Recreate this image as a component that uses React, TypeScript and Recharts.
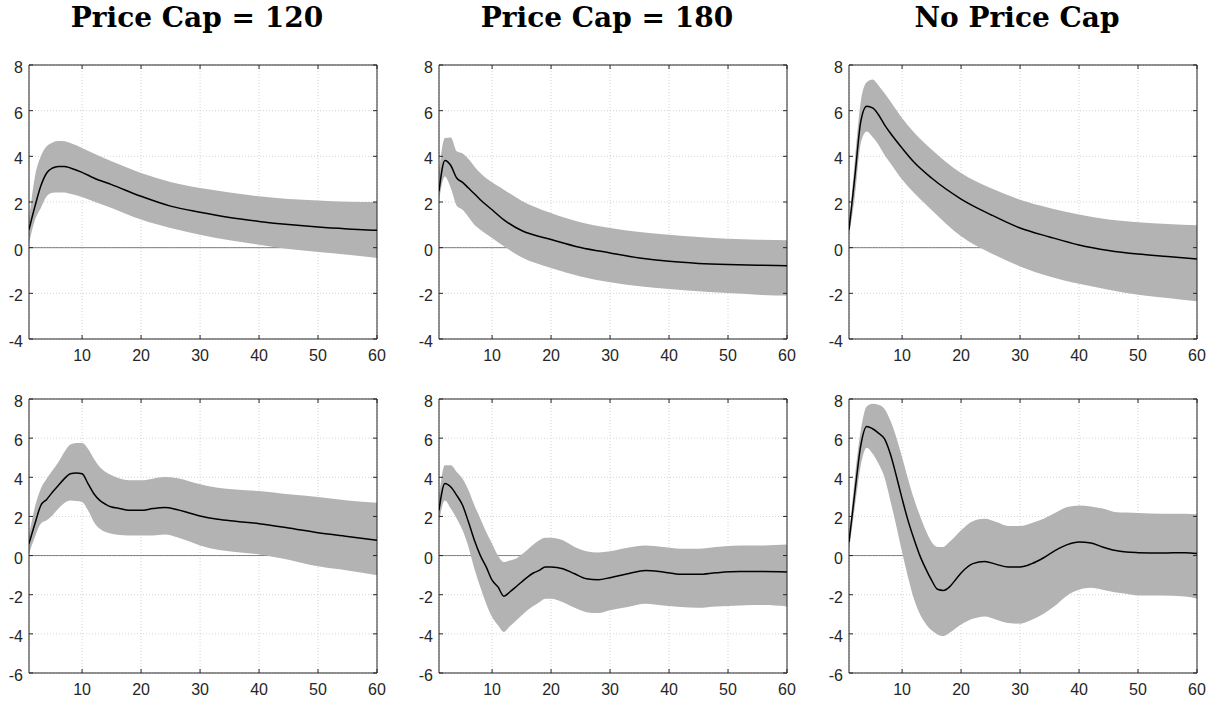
import React from "react";
import { ComposedChart, Area, Line, XAxis, YAxis, CartesianGrid, ReferenceArea } from "recharts";

const TITLES = ["Price Cap = 120", "Price Cap = 180", "No Price Cap"];
const X_TICKS = [10, 20, 30, 40, 50, 60];
const Y_TICKS_TOP = [-4, -2, 0, 2, 4, 6, 8];
const Y_TICKS_BOTTOM = [-6, -4, -2, 0, 2, 4, 6, 8];

// top row: horizon grid shared by the three panels
const X_TOP = [1, 2, 3, 4, 5, 6, 7, 8, 10, 12, 15, 20, 25, 30, 35, 40, 45, 50, 55, 60];

// Price Cap = 120, top
const P1_MEAN = [0.79, 1.8, 2.7, 3.27, 3.49, 3.56, 3.56, 3.49, 3.3, 3.05, 2.76, 2.25, 1.82, 1.55, 1.32, 1.15, 1.01, 0.9, 0.82, 0.76];
const P1_HI = [1.2, 3.1, 4.0, 4.44, 4.61, 4.67, 4.66, 4.58, 4.36, 4.12, 3.78, 3.27, 2.88, 2.61, 2.42, 2.25, 2.13, 2.07, 2.01, 2.0];
const P1_LO = [0.2, 1.2, 1.74, 2.25, 2.4, 2.42, 2.42, 2.36, 2.22, 2.02, 1.74, 1.23, 0.86, 0.57, 0.32, 0.13, -0.06, -0.19, -0.31, -0.45];

// Price Cap = 180, top
const P2_MEAN = [2.47, 3.82, 3.6, 3.05, 2.86, 2.61, 2.36, 2.1, 1.66, 1.22, 0.75, 0.36, 0.01, -0.23, -0.45, -0.6, -0.69, -0.74, -0.77, -0.79];
const P2_HI = [3.3, 4.8, 4.83, 4.22, 4.12, 3.88, 3.56, 3.27, 2.86, 2.54, 2.06, 1.52, 1.11, 0.86, 0.69, 0.57, 0.47, 0.39, 0.35, 0.32];
const P2_LO = [2.03, 3.12, 2.61, 1.84, 1.66, 1.34, 1.0, 0.79, 0.42, 0.06, -0.42, -0.89, -1.26, -1.52, -1.69, -1.81, -1.91, -1.99, -2.06, -2.1];

// No Price Cap, top
const P3_MEAN = [0.79, 3.12, 5.53, 6.19, 6.12, 5.82, 5.39, 5.02, 4.36, 3.75, 3.05, 2.13, 1.45, 0.86, 0.47, 0.12, -0.12, -0.28, -0.39, -0.5];
const P3_HI = [0.9, 3.85, 6.4, 7.24, 7.36, 7.1, 6.77, 6.41, 5.68, 5.05, 4.3, 3.27, 2.61, 2.1, 1.74, 1.45, 1.23, 1.11, 1.04, 0.98];
const P3_LO = [0.5, 2.25, 4.58, 5.09, 4.85, 4.51, 4.07, 3.71, 2.98, 2.4, 1.65, 0.5, -0.23, -0.82, -1.26, -1.58, -1.84, -2.06, -2.2, -2.35];

// Price Cap = 120, bottom
const X4 = [1, 2, 3, 4, 5, 6, 7, 8, 9, 10, 11, 12, 13, 14, 15, 16, 18, 20, 22, 24, 26, 28, 30, 33, 36, 40, 45, 50, 55, 60];
const P4_MEAN = [0.61, 1.63, 2.56, 2.87, 3.25, 3.59, 3.93, 4.18, 4.22, 4.18, 3.68, 3.16, 2.82, 2.62, 2.48, 2.43, 2.31, 2.31, 2.4, 2.45, 2.35, 2.19, 2.02, 1.85, 1.75, 1.63, 1.41, 1.17, 0.98, 0.78];
const P4_HI = [1.03, 2.48, 3.42, 3.93, 4.36, 4.78, 5.29, 5.67, 5.75, 5.75, 5.46, 4.95, 4.53, 4.27, 4.1, 3.98, 3.85, 3.85, 3.93, 4.01, 3.96, 3.81, 3.64, 3.47, 3.37, 3.3, 3.13, 2.99, 2.82, 2.7];
const P4_LO = [0.1, 0.95, 1.63, 1.8, 2.06, 2.4, 2.69, 2.82, 2.79, 2.74, 2.31, 1.72, 1.37, 1.2, 1.12, 1.07, 1.03, 1.02, 1.03, 1.08, 0.95, 0.74, 0.52, 0.3, 0.18, 0.06, -0.21, -0.55, -0.76, -1.01];

// Price Cap = 180, bottom
const X5 = [1, 2, 3, 4, 5, 6, 7, 8, 9, 10, 11, 12, 13, 14, 15, 16, 17, 18, 19, 20, 22, 24, 26, 28, 30, 33, 36, 39, 42, 45, 48, 52, 56, 60];
const P5_MEAN = [2.31, 3.68, 3.5, 3.08, 2.57, 1.71, 0.78, 0.01, -0.58, -1.26, -1.6, -2.08, -1.86, -1.61, -1.35, -1.1, -0.89, -0.76, -0.58, -0.58, -0.67, -0.93, -1.18, -1.23, -1.13, -0.93, -0.76, -0.84, -0.96, -0.96, -0.88, -0.82, -0.82, -0.84];
const P5_HI = [2.99, 4.61, 4.61, 4.27, 3.93, 3.34, 2.57, 1.89, 1.2, 0.61, 0.01, -0.33, -0.25, -0.16, 0.06, 0.3, 0.56, 0.78, 0.91, 0.91, 0.78, 0.44, 0.22, 0.16, 0.22, 0.4, 0.51, 0.44, 0.35, 0.35, 0.44, 0.51, 0.52, 0.56];
const P5_LO = [1.71, 2.82, 2.4, 1.89, 1.29, 0.44, -0.67, -1.61, -2.46, -3.14, -3.56, -3.9, -3.61, -3.34, -3.06, -2.8, -2.58, -2.38, -2.2, -2.2, -2.38, -2.67, -2.89, -2.94, -2.8, -2.63, -2.46, -2.55, -2.63, -2.67, -2.6, -2.55, -2.53, -2.6];

// No Price Cap, bottom
const X6 = [1, 2, 3, 4, 5, 6, 7, 8, 9, 10, 11, 12, 13, 14, 15, 16, 17, 18, 19, 20, 22, 24, 26, 28, 30, 32, 34, 36, 38, 40, 42, 44, 46, 48, 50, 54, 58, 60];
const P6_MEAN = [0.69, 3.25, 5.63, 6.6, 6.48, 6.26, 5.97, 5.2, 4.1, 2.91, 1.8, 0.86, 0.01, -0.67, -1.26, -1.72, -1.78, -1.61, -1.26, -0.89, -0.41, -0.3, -0.45, -0.58, -0.58, -0.41, -0.11, 0.27, 0.56, 0.69, 0.64, 0.44, 0.27, 0.18, 0.15, 0.13, 0.15, 0.1];
const P6_HI = [0.95, 4.01, 6.4, 7.62, 7.76, 7.71, 7.5, 6.91, 6.06, 5.03, 3.93, 2.91, 2.06, 1.29, 0.69, 0.44, 0.44, 0.69, 0.98, 1.29, 1.76, 1.88, 1.71, 1.51, 1.51, 1.66, 1.88, 2.19, 2.48, 2.56, 2.51, 2.4, 2.23, 2.2, 2.18, 2.14, 2.14, 2.11];
const P6_LO = [0.27, 2.48, 4.61, 5.51, 5.2, 4.7, 4.01, 2.82, 1.54, 0.18, -1.1, -2.2, -2.97, -3.48, -3.82, -4.03, -4.11, -3.96, -3.74, -3.52, -3.23, -3.11, -3.28, -3.45, -3.48, -3.28, -2.97, -2.55, -2.04, -1.75, -1.65, -1.75, -1.87, -1.95, -2.04, -2.04, -2.09, -2.2];

const AX = "#262626";
const BAND = "#b3b3b3";
const TICK_FONT = "'Liberation Sans', Arial, sans-serif";

const COL_LEFT = [29, 439, 849];
const ROW_TOP = [65, 399];
const PLOT_W = 348;
const PLOT_H = 274;
const PAD_L = 40;
const PAD_T = 10;
const PAD_R = 20;
const PAD_B = 30;
const TICK_LEN = 4;

const rows = (x: number[], mean: number[], lo: number[], hi: number[]) =>
  x.map((v, i) => ({ x: v, mean: mean[i], band: [lo[i], hi[i]] }));

const PANELS = [
  { col: 0, row: 0, data: rows(X_TOP, P1_MEAN, P1_LO, P1_HI) },
  { col: 1, row: 0, data: rows(X_TOP, P2_MEAN, P2_LO, P2_HI) },
  { col: 2, row: 0, data: rows(X_TOP, P3_MEAN, P3_LO, P3_HI) },
  { col: 0, row: 1, data: rows(X4, P4_MEAN, P4_LO, P4_HI) },
  { col: 1, row: 1, data: rows(X5, P5_MEAN, P5_LO, P5_HI) },
  { col: 2, row: 1, data: rows(X6, P6_MEAN, P6_LO, P6_HI) },
];

// x tick: y is the plot bottom (tickSize 0, tickMargin 0); marks point inward, top and bottom
const XTick = (props: any) => {
  const { x, y, payload } = props;
  return (
    <g>
      <line x1={x} x2={x} y1={y} y2={y - TICK_LEN} stroke={AX} strokeWidth={1} />
      <line x1={x} x2={x} y1={y - PLOT_H} y2={y - PLOT_H + TICK_LEN} stroke={AX} strokeWidth={1} />
      <text x={x} y={y + 22} textAnchor="middle" fill={AX} fontSize={16} fontFamily={TICK_FONT}>
        {payload.value}
      </text>
    </g>
  );
};

// y tick: x is the plot left edge
const YTick = (props: any) => {
  const { x, y, payload } = props;
  return (
    <g>
      <line x1={x} x2={x + TICK_LEN} y1={y} y2={y} stroke={AX} strokeWidth={1} />
      <line x1={x + PLOT_W} x2={x + PLOT_W - TICK_LEN} y1={y} y2={y} stroke={AX} strokeWidth={1} />
      <text x={x - 6} y={y + 8} textAnchor="end" fill={AX} fontSize={16} fontFamily={TICK_FONT}>
        {payload.value}
      </text>
    </g>
  );
};

const zero = () => 0;

function Panel({ data, row, col }: { data: any[]; row: number; col: number }) {
  const yTicks = row === 0 ? Y_TICKS_TOP : Y_TICKS_BOTTOM;
  const yMin = yTicks[0];
  const yMax = yTicks[yTicks.length - 1];
  return (
    <div style={{ position: "absolute", left: COL_LEFT[col] - PAD_L, top: ROW_TOP[row] - PAD_T }}>
      <ComposedChart
        width={PAD_L + PLOT_W + PAD_R}
        height={PAD_T + PLOT_H + PAD_B}
        data={data}
        margin={{ top: PAD_T, right: PAD_R, bottom: 0, left: 0 }}
      >
        <CartesianGrid stroke="#d4d4d4" strokeDasharray="1 2" />
        <XAxis dataKey="x" type="number" domain={[1, 60]} ticks={X_TICKS} interval={0} allowDataOverflow
          height={PAD_B} axisLine={false} tickLine={false} tickSize={0} tickMargin={0} tick={<XTick />} />
        <YAxis type="number" domain={[yMin, yMax]} ticks={yTicks} interval={0} allowDataOverflow
          width={PAD_L} axisLine={false} tickLine={false} tickSize={0} tickMargin={0} tick={<YTick />} />
        {/* zero line: an unfilled area so it stays in the area layer, under the band */}
        <Area dataKey={zero} type="linear" stroke="#4d4d4d" strokeWidth={0.7} fill="none" fillOpacity={0}
          dot={false} activeDot={false} isAnimationActive={false} />
        <Area dataKey="band" type="monotone" stroke="none" fill={BAND} fillOpacity={1} isAnimationActive={false} />
        <Line dataKey="mean" type="monotone" stroke="#000" strokeWidth={1.5} dot={false} activeDot={false} isAnimationActive={false} />
        <ReferenceArea x1={1} x2={60} y1={yMin} y2={yMax} fill="none" fillOpacity={0} stroke={AX} strokeWidth={1} />
      </ComposedChart>
    </div>
  );
}

export default function App() {
  return (
    <div style={{ position: "absolute", left: 0, top: 0, width: 1222, height: 702, background: "#fff" }}>
      <svg width={1222} height={50} style={{ position: "absolute", left: 0, top: 0 }}>
        {TITLES.map((t, i) => (
          <text key={t} x={COL_LEFT[i] + PLOT_W / 2 - 6} y={27} textAnchor="middle"
            style={{ fontFamily: "'DejaVu Serif', serif", fontWeight: 700, fontSize: 28, fill: "#000" }}>
            {t}
          </text>
        ))}
      </svg>
      {PANELS.map((p, i) => (
        <Panel key={i} data={p.data} row={p.row} col={p.col} />
      ))}
    </div>
  );
}
